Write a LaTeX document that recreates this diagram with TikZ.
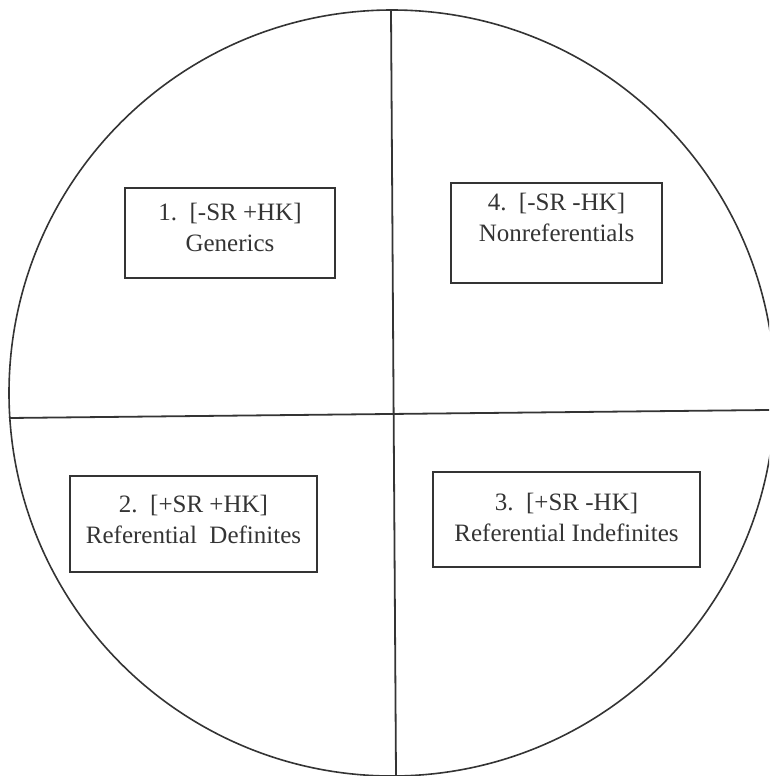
\documentclass[tikz,border=0pt]{standalone}
\usepackage{fontspec}
\setmainfont{Liberation Serif}
\usetikzlibrary{positioning}
\definecolor{InkGray}{RGB}{52,52,52}
\tikzset{
  divider/.style={draw=InkGray,line width=1.8pt},
  ring/.style={draw=InkGray,line width=1.6pt},
  classbox/.style={draw=InkGray,line width=1.8pt,inner sep=0pt},
  classtext/.style={align=center,inner sep=0pt,text=InkGray,
    font=\fontsize{25}{31}\selectfont}
}
\begin{document}
\begin{tikzpicture}[x=1pt,y=-1pt]
  \useasboundingbox (0,0) rectangle (769,776);
  \clip (0,0) rectangle (769,776);
  % outer circle and the two axes
  \coordinate (ctr) at (392,393);
  \draw[ring] (ctr) circle[radius=383pt];
  \coordinate (top) at (391,10);
  \coordinate (bot) at (396,776);
  \coordinate (lft) at (9,418);
  \coordinate (rgt) at (769,410);
  \draw[divider] (top) -- (bot);
  \draw[divider] (lft) -- (rgt);
  % the four quadrant boxes
  \node[classbox,minimum width=210pt,minimum height=90pt] (gen) at (230,233) {};
  \node[classtext,below=16pt of gen.north] (gentxt) {1.~~[-SR +HK]\\Generics};
  \node[classbox,minimum width=211pt,minimum height=100pt] (nonref) at (556.5,233) {};
  \node[classtext,below=11pt of nonref.north] (nonreftxt) {4.~~[-SR -HK]\\Nonreferentials};
  \node[classbox,minimum width=247pt,minimum height=96pt] (refdef) at (193.5,524) {};
  \node[classtext,below=20pt of refdef.north] (refdeftxt) {2.~~[+SR +HK]\\Referential~~Definites};
  \node[classbox,minimum width=267pt,minimum height=95pt] (refind) at (566.5,519.5) {};
  \node[classtext,below=22pt of refind.north] (refindtxt) {3.~~[+SR -HK]\\Referential Indefinites};
\end{tikzpicture}
\end{document}
